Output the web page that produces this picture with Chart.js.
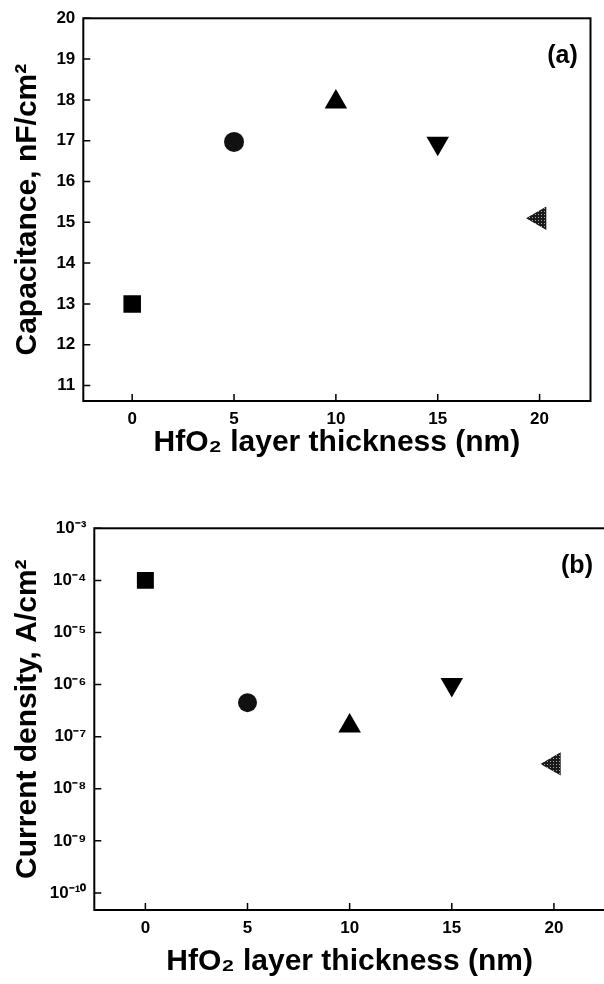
<!DOCTYPE html>
<html>
<head>
<meta charset="utf-8">
<script src="https://cdn.jsdelivr.net/npm/chart.js@4.4.1/dist/chart.umd.min.js"></script>
<style>
  html, body { margin: 0; padding: 0; background: #fff; overflow: hidden; width: 604px; height: 984px; }
  #boxA { position: absolute; left: 0; top: 0; }
  #boxB { position: absolute; left: 0; top: 484px; }
</style>
</head>
<body>
<div id="boxA"><canvas id="chartA" width="604" height="480"></canvas></div>
<div id="boxB"><canvas id="chartB" width="620" height="500"></canvas></div>
<script>
// data
const thickness = [0, 5, 10, 15, 20];
const capacitance = [13.0, 16.97, 17.95, 16.94, 15.1];
const currentDensity = [1.0e-4, 4.5e-7, 1.6e-7, 1.0e-6, 3.0e-8];

const xTicks = [0, 5, 10, 15, 20];
const capTicks = [11, 12, 13, 14, 15, 16, 17, 18, 19, 20];
const jTicks = [1e-10, 1e-9, 1e-8, 1e-7, 1e-6, 1e-5, 1e-4, 1e-3];
const jTickLabels = ['10⁻¹⁰', '10⁻⁹', '10⁻⁸', '10⁻⁷', '10⁻⁶', '10⁻⁵', '10⁻⁴', '10⁻³'];

const FONT = "'Liberation Sans', Arial, Helvetica, sans-serif";
Chart.defaults.font.family = FONT;
Chart.defaults.color = '#000';

// grey cross-hatched fill for the left triangle
function hatch() {
  const c = document.createElement('canvas');
  c.width = 3; c.height = 3;
  const g = c.getContext('2d');
  g.fillStyle = '#1a1a1a';
  g.fillRect(0, 0, 3, 3);
  g.fillStyle = '#a8a8a8';
  g.fillRect(1, 1, 1, 1);
  return g.createPattern(c, 'repeat');
}
const hatchFill = hatch();

const styles = ['rect', 'circle', 'triangle', 'triangle', 'triangle'];
const rotations = [0, 0, 0, 180, 270];
const fills = ['#000', '#111', '#000', '#000', hatchFill];

// frame, inward ticks and panel letter
const frameTicks = {
  id: 'frameTicks',
  afterDraw(chart, args, opts) {
    const { ctx, chartArea: a, scales: { x, y } } = chart;
    ctx.save();
    ctx.strokeStyle = '#000';
    ctx.lineWidth = 2;
    ctx.strokeRect(a.left, a.top, a.right - a.left, a.bottom - a.top);
    ctx.lineWidth = 1.5;
    ctx.beginPath();
    x.ticks.forEach(t => {
      const px = x.getPixelForValue(t.value);
      ctx.moveTo(px, a.bottom);
      ctx.lineTo(px, a.bottom - 7);
    });
    y.ticks.forEach(t => {
      const py = y.getPixelForValue(t.value);
      ctx.moveTo(a.left, py);
      ctx.lineTo(a.left + 7, py);
    });
    ctx.stroke();
    ctx.fillStyle = '#000';
    ctx.font = 'bold 25px ' + FONT;
    ctx.textAlign = 'center';
    ctx.textBaseline = 'middle';
    ctx.fillText(opts.label, a.right - 28, a.top + 38);
    ctx.restore();
  }
};

function makeChart(id, cfg) {
  const tickFont = { size: 17, weight: 'bold' };
  const titleFont = { size: 30, weight: 'bold' };
  return new Chart(document.getElementById(id), {
    type: 'scatter',
    data: {
      datasets: [{
        data: thickness.map((t, i) => ({ x: t, y: cfg.values[i] })),
        pointStyle: styles,
        rotation: rotations,
        radius: cfg.radii,
        backgroundColor: fills,
        borderColor: fills,
        borderWidth: 0
      }]
    },
    options: {
      responsive: false,
      animation: false,
      layout: { padding: cfg.padding },
      plugins: {
        legend: { display: false },
        tooltip: { enabled: false },
        frameTicks: { label: cfg.label }
      },
      scales: {
        x: {
          type: 'linear',
          min: cfg.xMin,
          max: 22.5,
          afterBuildTicks: s => { s.ticks = xTicks.map(v => ({ value: v })); },
          afterFit: s => { s.height = cfg.xHeight; },
          grid: { display: false, drawTicks: false },
          border: { display: false },
          ticks: { font: tickFont, padding: 8, maxRotation: 0 },
          title: {
            display: true,
            text: 'HfO₂ layer thickness (nm)',
            font: titleFont,
            padding: { top: 0, bottom: cfg.xTitlePad }
          }
        },
        y: {
          type: cfg.yType,
          min: cfg.yMin,
          max: cfg.yMax,
          afterBuildTicks: s => { s.ticks = cfg.yTicks.map(v => ({ value: v })); },
          afterFit: s => { s.width = cfg.yWidth; },
          grid: { display: false, drawTicks: false },
          border: { display: false },
          ticks: { font: tickFont, padding: 8, callback: cfg.yLabel },
          title: {
            display: true,
            text: cfg.yTitle,
            font: titleFont,
            padding: { top: 10, bottom: 0 }
          }
        }
      }
    },
    plugins: [frameTicks]
  });
}

makeChart('chartA', {
  values: capacitance,
  radii: [12.4, 10, 13, 13, 13.5],
  label: '(a)',
  padding: { left: 0, top: 18.3, right: 9.3, bottom: 0 },
  xMin: -2.4,
  xHeight: 79,
  xTitlePad: 19,
  yType: 'linear',
  yMin: 10.62,
  yMax: 20,
  yTicks: capTicks,
  yLabel: v => v,
  yWidth: 83.3,
  yTitle: 'Capacitance, nF/cm²'
});

makeChart('chartB', {
  values: currentDensity,
  radii: [12, 9.5, 13, 13, 13.5],
  label: '(b)',
  padding: { left: 0, top: 44.3, right: 15, bottom: 0 },
  xMin: -2.5,
  xHeight: 74,
  xTitlePad: 4,
  yType: 'logarithmic',
  yMin: 4.7e-11,
  yMax: 1e-3,
  yTicks: jTicks,
  yLabel: (v, i) => jTickLabels[i],
  yWidth: 94.3,
  yTitle: 'Current density, A/cm²'
});
</script>
</body>
</html>
